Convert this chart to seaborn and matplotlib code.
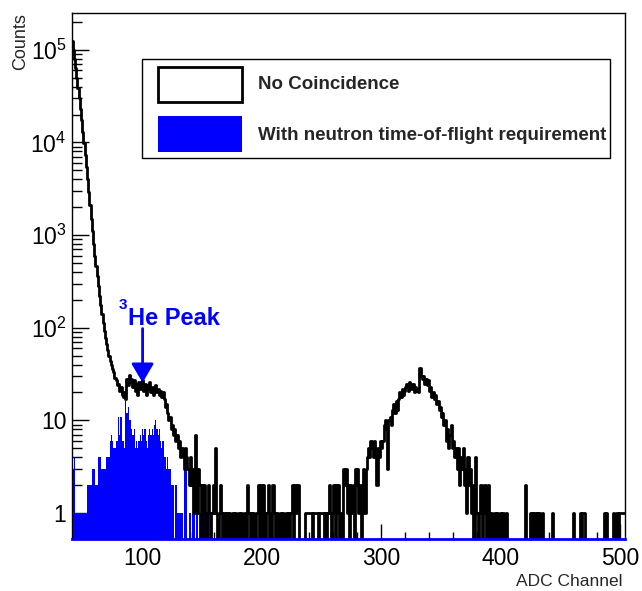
import numpy as np
import pandas as pd
import matplotlib
matplotlib.use("Agg")
import matplotlib.pyplot as plt
import seaborn as sns
from matplotlib.patches import Rectangle
from matplotlib.ticker import FixedLocator, FixedFormatter, MultipleLocator, LogLocator, NullFormatter

sns.set_theme(style="white")
plt.rcParams['font.family'] = ['Liberation Sans', 'DejaVu Sans']

# ------------------------------
# DATA (1 ADC channel per bin, first bin = channel 40)
# ------------------------------
first_channel = 40

# No coincidence spectrum, channels 40 .. 503
no_coinc = [
    150000, 125000, 100000, 80000, 63000, 50000, 39000, 30000, 23000, 17500,
    13000, 9800, 7300, 5400, 4000, 2900, 2100, 1500, 1100, 800,            # 40-59
    600, 460, 360, 280, 220, 175, 140, 112, 92, 78,
    67, 58, 50, 44, 40, 36, 33, 29, 27, 24,                                # 60-79
    25, 21, 23, 19, 18, 20, 17, 28, 24, 31, 26, 28, 23, 27, 21, 25, 19, 26, 22, 24,   # 80-99
    27, 21, 25, 19, 24, 22, 26, 20, 23, 19, 22, 24, 20, 22, 19, 21, 18, 20, 17, 14,   # 100-119
    15, 12, 10, 11, 8, 9, 7, 8, 6, 7, 5, 6, 4, 5, 4, 3, 5, 4, 3, 2,                   # 120-139
    4, 2, 3, 1, 7, 2, 1, 3, 2, 0, 2, 1, 2, 0, 1, 2, 1, 0, 1, 2,                       # 140-159
    1, 5, 1, 0, 1, 2, 1, 0, 1, 0, 1, 1, 0, 1, 0, 1, 1, 0, 1, 0,                       # 160-179
    1, 1, 0, 1, 0, 1, 1, 0, 2, 1, 0, 1, 0, 1, 0, 1, 1, 2, 0, 2,                       # 180-199
    0, 2, 1, 0, 1, 2, 0, 1, 0, 2, 1, 0, 1, 1, 0, 1, 0, 1, 1, 0,                       # 200-219
    1, 0, 1, 0, 1, 2, 0, 2, 2, 1, 2, 0, 0, 0, 0, 0, 1, 1, 1, 1,                       # 220-239
    1, 1, 0, 1, 1, 1, 1, 0, 1, 1, 1, 1, 0, 1, 0, 1, 2, 1, 0, 1,                       # 240-259
    2, 0, 2, 1, 2, 0, 1, 0, 3, 2, 3, 1, 2, 0, 2, 1, 2, 0, 3, 2,                       # 260-279
    3, 1, 2, 0, 2, 3, 1, 3, 4, 5, 4, 6, 5, 4, 6, 5, 2, 5, 4, 6,                       # 280-299
    5, 6, 9, 10, 8, 3, 10, 11, 9, 13, 15, 12, 16, 13, 17, 20, 18, 22, 19, 21,         # 300-319
    23, 25, 21, 26, 24, 22, 25, 20, 23, 21, 22, 20, 37, 30, 28, 30, 25, 28, 24, 27,   # 320-339
    21, 23, 18, 20, 17, 19, 15, 16, 13, 14, 11, 12, 9, 10, 6, 8, 5, 7, 9, 5,          # 340-359
    6, 4, 5, 3, 5, 2, 4, 3, 5, 2, 3, 1, 4, 2, 3, 1, 2, 0, 4, 1,                       # 360-379
    1, 0, 1, 2, 0, 1, 2, 2, 0, 2, 1, 0, 1, 0, 1, 1, 0, 1, 0, 1,                       # 380-399
    0, 1, 1, 0, 1, 0, 0, 0, 0, 0, 0, 0, 0, 0, 0, 0, 0, 0, 0, 0,                       # 400-419
    2, 0, 0, 0, 1, 0, 1, 0, 1, 0, 1, 0, 1, 0, 1, 0, 0, 0, 0, 0,                       # 420-439
    0, 0, 0, 1, 0, 0, 0, 0, 0, 0, 0, 0, 0, 0, 0, 0, 0, 0, 0, 0,                       # 440-459
    1, 0, 0, 0, 0, 0, 1, 0, 1, 1, 0, 0, 0, 0, 0, 0, 0, 0, 0, 0,                       # 460-479
    0, 0, 0, 0, 0, 0, 1, 0, 1, 0, 0, 0, 0, 0, 1, 0, 1, 1, 0, 1,                       # 480-499
    1, 1, 1, 1,                                                                       # 500-503
]

# With neutron time-of-flight requirement, channels 40 .. 159
with_tof = [
    4, 4, 3, 4, 1, 1, 1, 1, 1, 1, 1, 1, 1, 1, 2, 2, 2, 2, 3, 3,             # 40-59
    3, 2, 2, 4, 4, 4, 3, 3, 3, 3, 4, 4, 4, 6, 7, 6, 5, 5, 6, 6,             # 60-79
    11, 7, 11, 6, 6, 5, 16, 12, 14, 10, 10, 8, 7, 8, 5, 6, 5, 6, 7, 6,      # 80-99
    8, 7, 8, 6, 5, 7, 8, 7, 8, 7, 9, 10, 8, 7, 8, 6, 5, 6, 4, 4,            # 100-119
    3, 4, 3, 3, 2, 2, 2, 0, 2, 1, 1, 1, 1, 1, 0, 3, 4, 3, 0, 1,             # 120-139
    1, 0, 1, 1, 0, 1, 1, 0, 1, 1, 0, 1, 1, 0, 1, 1, 0, 1, 0, 0,             # 140-159
]

y_ticks = [1, 10, 100, 1000, 10000, 100000]
y_tick_labels = ['1', '10', r'$\mathdefault{10^{2}}$', r'$\mathdefault{10^{3}}$',
                 r'$\mathdefault{10^{4}}$', r'$\mathdefault{10^{5}}$']
x_ticks = [100, 200, 300, 400, 500]


def to_frame(counts):
    ch = first_channel + np.arange(len(counts)) + 0.5
    return pd.DataFrame({'channel': ch, 'counts': counts})


# ------------------------------
# FIGURE
# ------------------------------
fig = plt.figure(figsize=(6.42, 5.91), dpi=100)
W, H = 642, 591
ax = fig.add_axes([72 / W, 1 - 539 / H, (625 - 72) / W, (539 - 13) / H])

tof_df = to_frame(with_tof)
nc_df = to_frame(no_coinc)

sns.histplot(data=tof_df, x='channel', weights='counts', binwidth=1,
             binrange=(first_channel, first_channel + len(with_tof)),
             element='step', fill=True, color='blue', alpha=1, linewidth=0, ax=ax)
sns.histplot(data=nc_df, x='channel', weights='counts', binwidth=1,
             binrange=(first_channel, first_channel + len(no_coinc)),
             element='step', fill=False, color='black', linewidth=2.0, ax=ax)

ax.set_yscale('log')
ax.set_xlim(41.5, 503.8)
ax.set_ylim(0.524, 2.5e5)
ax.set_xlabel('')
ax.set_ylabel('')

ax.xaxis.set_major_locator(FixedLocator(x_ticks))
ax.xaxis.set_minor_locator(MultipleLocator(20))
ax.yaxis.set_major_locator(FixedLocator(y_ticks))
ax.yaxis.set_major_formatter(FixedFormatter(y_tick_labels))
ax.yaxis.set_minor_locator(LogLocator(base=10, subs=np.arange(2, 10)))
ax.yaxis.set_minor_formatter(NullFormatter())

ax.tick_params(axis='both', which='both', direction='in', colors='black',
               top=False, right=False, bottom=True, left=True, labelsize=16.5)
ax.tick_params(axis='y', which='major', length=12, width=1, pad=4)
ax.tick_params(axis='y', which='minor', length=7, width=1)
ax.tick_params(axis='x', which='major', length=10.5, width=1, pad=6)
ax.tick_params(axis='x', which='minor', length=5, width=1)

for side in ['top', 'left', 'right']:
    ax.spines[side].set_color('black')
    ax.spines[side].set_linewidth(1)
ax.spines['bottom'].set_color('blue')
ax.spines['bottom'].set_linewidth(2)
ax.spines['bottom'].set_zorder(5)
ax.grid(False)

# axis titles (ROOT style)
fig.text(21 / W, 1 - 13 / H, 'Counts', rotation=90, ha='center', va='top', fontsize=13)
fig.text(622 / W, 1 - 586 / H, 'ADC Channel', ha='right', va='baseline', fontsize=12.5)

# ------------------------------
# 3He peak annotation
# ------------------------------
ax.text(80.5, 148, '3', color='blue', fontsize=11, fontweight='bold', ha='left', va='bottom')
ax.text(88.5, 106, 'He Peak', color='blue', fontsize=17, fontweight='bold', ha='left', va='baseline')
ax.annotate('', xy=(100.5, 25.5), xytext=(100.5, 98),
            arrowprops=dict(arrowstyle='-|>,head_width=0.34,head_length=0.58',
                            mutation_scale=20, color='blue', lw=2, shrinkA=0, shrinkB=0))

# ------------------------------
# Legend box drawn by hand
# ------------------------------
def fx(px):
    return px / W


def fy(py):
    return 1 - py / H


fig.add_artist(Rectangle((fx(142), fy(158)), fx(610) - fx(142), fy(59) - fy(158),
                         transform=fig.transFigure, facecolor='white', edgecolor='black', lw=1, zorder=3))
fig.add_artist(Rectangle((fx(158), fy(102)), fx(242) - fx(158), fy(67) - fy(102),
                         transform=fig.transFigure, facecolor='none', edgecolor='black', lw=2, zorder=4))
fig.add_artist(Rectangle((fx(158), fy(152)), fx(242) - fx(158), fy(116) - fy(152),
                         transform=fig.transFigure, facecolor='blue', edgecolor='none', zorder=4))
fig.text(fx(258), fy(85), 'No Coincidence', fontsize=13.5, fontweight='bold', ha='left', va='center', zorder=5)
fig.text(fx(258), fy(135), 'With neutron time-of-flight requirement', fontsize=13.5,
         fontweight='bold', ha='left', va='center', zorder=5)

fig.savefig('out.png', dpi=100)
